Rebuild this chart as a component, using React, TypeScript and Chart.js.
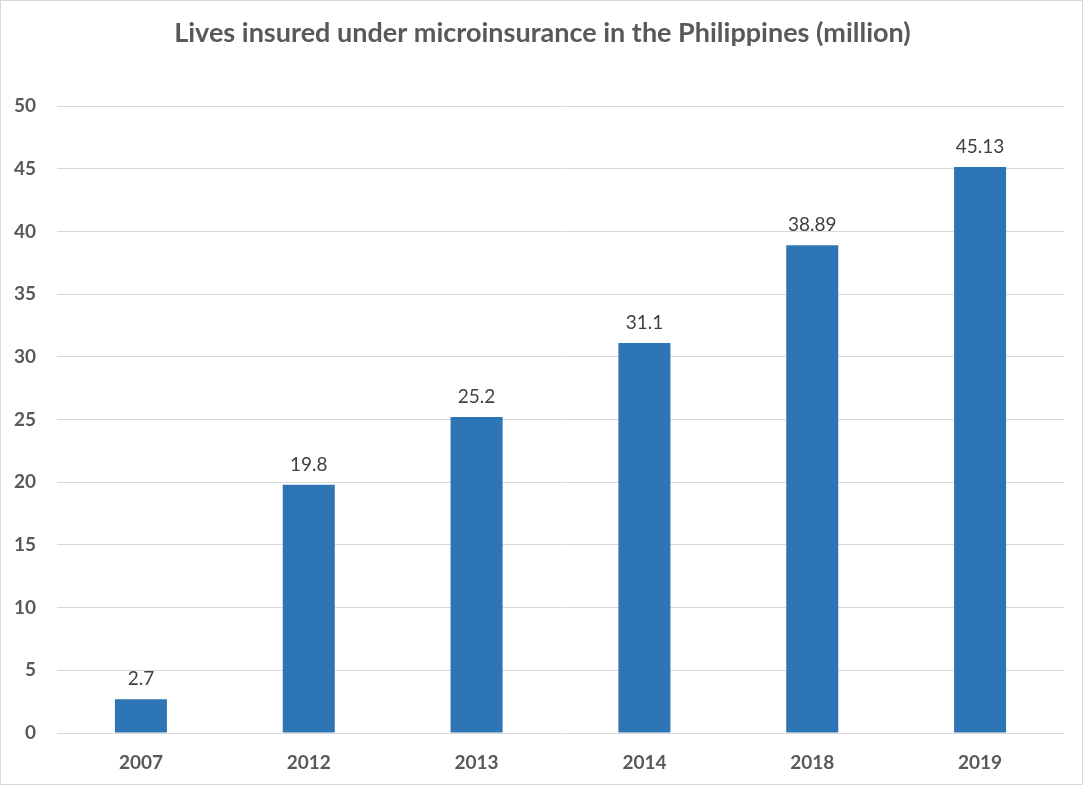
import React, { useEffect, useRef } from "react";
import { Chart, registerables } from "chart.js";

Chart.register(...registerables);

const categories = ["2007", "2012", "2013", "2014", "2018", "2019"];
const livesInsured = [2.7, 19.8, 25.2, 31.1, 38.89, 45.13];
const dataLabels = ["2.7", "19.8", "25.2", "31.1", "38.89", "45.13"];
const yTicks = [0, 5, 10, 15, 20, 25, 30, 35, 40, 45, 50];
const titleText = "Lives insured under microinsurance in the Philippines (million)";

const valueLabelPlugin = {
  id: "valueLabels",
  afterDatasetsDraw(chart: any) {
    const meta = chart.getDatasetMeta(0);
    const ctx = chart.ctx;
    ctx.save();
    ctx.font = "19px Lato";
    ctx.fillStyle = "#404040";
    ctx.textAlign = "center";
    ctx.textBaseline = "middle";
    meta.data.forEach((bar: any, i: number) => {
      ctx.fillText(dataLabels[i], bar.x, bar.y - 20);
    });
    ctx.restore();
  },
};

const titlePlugin = {
  id: "centeredTitle",
  afterDraw(chart: any) {
    const ctx = chart.ctx;
    ctx.save();
    ctx.font = "bold 27px Lato";
    ctx.fillStyle = "#595959";
    ctx.textAlign = "center";
    ctx.textBaseline = "middle";
    ctx.fillText(titleText, chart.width / 2 + 1, 32);
    ctx.restore();
  },
};

export default function App() {
  const ref = useRef<HTMLCanvasElement | null>(null);
  useEffect(() => {
    document.body.style.margin = "0";
    if (!ref.current) return;
    const chart = new Chart(ref.current, {
      type: "bar",
      data: {
        labels: categories,
        datasets: [
          {
            data: livesInsured,
            backgroundColor: "#2E75B6",
            barPercentage: 0.31,
            categoryPercentage: 1,
          },
        ],
      },
      options: {
        animation: false,
        responsive: false,
        maintainAspectRatio: false,
        layout: { padding: { left: 0, right: 18, top: 105, bottom: 0 } },
        plugins: {
          legend: { display: false },
          tooltip: { enabled: false },
          title: { display: false },
        },
        scales: {
          x: {
            grid: { display: false, drawTicks: false },
            border: { display: false },
            ticks: {
              color: "#595959",
              font: { family: "Lato", size: 19, weight: "bold" },
              padding: 18,
            },
            afterFit(scale: any) {
              scale.height = 51;
            },
          },
          y: {
            min: 0,
            max: 50,
            afterBuildTicks(scale: any) {
              scale.ticks = yTicks.map((v) => ({ value: v }));
            },
            grid: { color: "#d9d9d9", lineWidth: 1, drawTicks: false },
            border: { display: false },
            ticks: {
              color: "#595959",
              font: { family: "Lato", size: 19, weight: "bold" },
              padding: 21,
            },
            afterFit(scale: any) {
              scale.width = 56;
            },
          },
        },
      },
      plugins: [valueLabelPlugin, titlePlugin],
    });
    return () => chart.destroy();
  }, []);
  return (
    <div
      style={{
        position: "relative",
        width: 1083,
        height: 785,
        boxSizing: "border-box",
        border: "1px solid #d9d9d9",
        background: "#fff",
        overflow: "hidden",
      }}
    >
      <canvas
        ref={ref}
        width={1081}
        height={783}
        style={{ position: "absolute", left: 0, top: 0, width: 1081, height: 783 }}
      />
    </div>
  );
}
